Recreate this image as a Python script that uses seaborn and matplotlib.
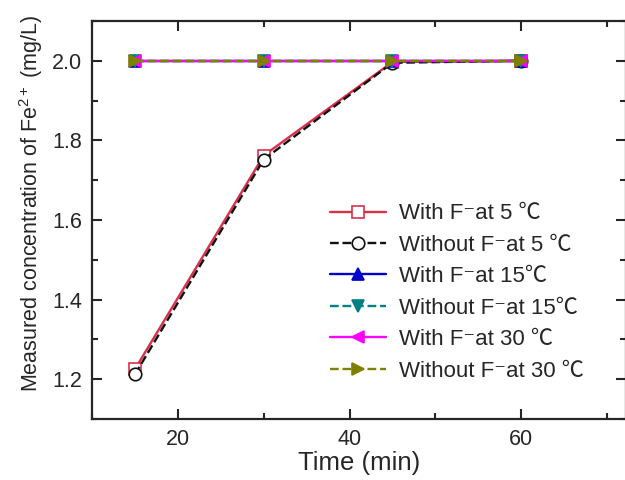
#!/usr/bin/env python3
import pandas as pd
import seaborn as sns
import matplotlib.pyplot as plt
from matplotlib.ticker import MultipleLocator

# time points (min)
time = [15, 30, 45, 60]

# measured Fe2+ concentration (mg/L)
with_f_5 = [1.225, 1.762, 1.997, 2.0]
without_f_5 = [1.212, 1.752, 1.995, 2.0]
with_f_15 = [2.0, 2.0, 2.0, 2.0]
without_f_15 = [2.0, 2.0, 2.0, 2.0]
with_f_30 = [2.0, 2.0, 2.0, 2.0]
without_f_30 = [2.0, 2.0, 2.0, 2.0]

labels = ['With F⁻at 5 ℃', 'Without F⁻at 5 ℃',
          'With F⁻at 15℃', 'Without F⁻at 15℃',
          'With F⁻at 30 ℃', 'Without F⁻at 30 ℃']

sns.set_style('ticks')
plt.rcParams['font.family'] = ['Liberation Sans', 'Noto Sans CJK SC', 'DejaVu Sans']
plt.rcParams['mathtext.fontset'] = 'custom'
plt.rcParams['mathtext.rm'] = 'Liberation Sans'
plt.rcParams['mathtext.it'] = 'Liberation Sans'

# styles: color, marker, linestyle, filled
styles = [
    ('#d9304a', 's', '-', False),
    ('#111111', 'o', '--', False),
    ('#0000c8', '^', '-', True),
    ('#008080', 'v', '--', True),
    ('#ff00ff', '<', '-', True),
    ('#808000', '>', '--', True),
]
series = [with_f_5, without_f_5, with_f_15, without_f_15, with_f_30, without_f_30]

fig = plt.figure(figsize=(6.25, 4.8), dpi=100)
ax = fig.add_axes([92 / 625, 61 / 480, 534 / 625, 398 / 480])

for values, label, (color, marker, ls, filled) in zip(series, labels, styles):
    df = pd.DataFrame({'time': time, 'conc': values})
    sns.lineplot(data=df, x='time', y='conc', ax=ax, color=color, marker=marker,
                 linestyle=ls, linewidth=1.7, markersize=9,
                 markerfacecolor=color if filled else 'white',
                 markeredgecolor=color, markeredgewidth=1.2, label=label)

ax.set_xlim(10, 72.2)
ax.set_ylim(1.1, 2.1)
ax.xaxis.set_major_locator(MultipleLocator(20))
ax.xaxis.set_minor_locator(MultipleLocator(10))
ax.yaxis.set_major_locator(MultipleLocator(0.2))
ax.yaxis.set_minor_locator(MultipleLocator(0.1))
ax.tick_params(which='both', direction='in', top=True, right=True, width=1.5,
               labelsize=15.5, pad=7)
ax.tick_params(which='major', length=7)
ax.tick_params(which='minor', length=4)
for s in ax.spines.values():
    s.set_linewidth(1.6)

ax.set_xlabel('Time (min)', fontsize=18.5, labelpad=1)
ax.set_ylabel('Measured concentration of Fe$^{2+}$ (mg/L)', fontsize=15.5)
ax.yaxis.set_label_coords(-0.088, 0.543)

ax.legend(loc='center left', bbox_to_anchor=(0.446, 0.318), frameon=False,
          fontsize=16, borderpad=0, borderaxespad=0, handlelength=2.5,
          handletextpad=0.6, labelspacing=0.47)

fig.savefig('out.png', dpi=100)
